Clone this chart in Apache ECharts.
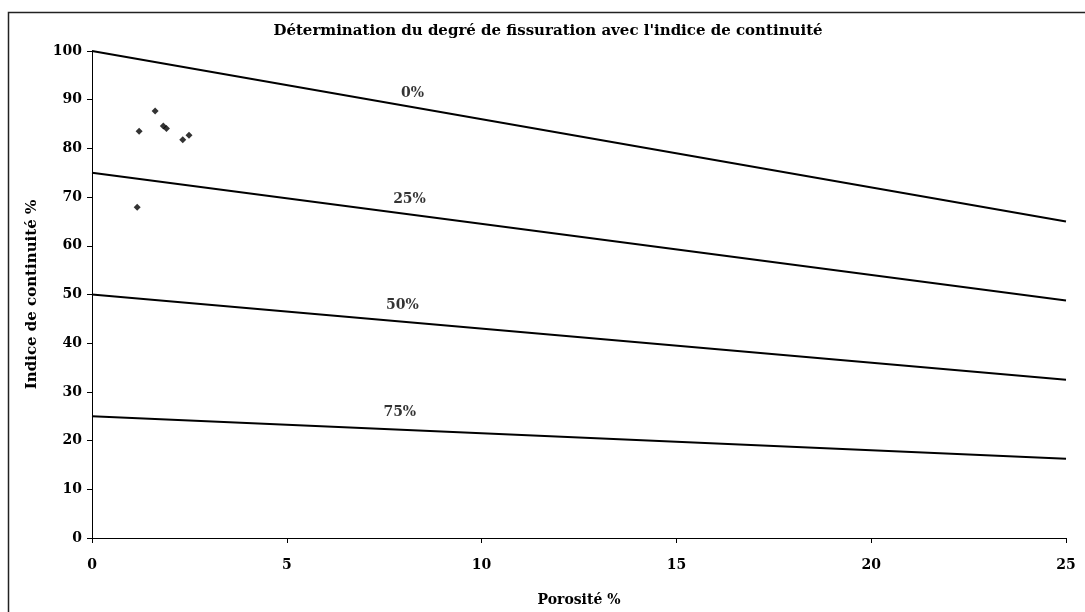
<!DOCTYPE html>
<html>
<head>
<meta charset="utf-8">
<script src="https://cdn.jsdelivr.net/npm/echarts@6/dist/echarts.min.js"></script>
<style>
html,body{margin:0;padding:0;background:#fff;}
#chart{width:1085px;height:612px;}
</style>
</head>
<body>
<div id="chart"></div>
<script>
// Reference lines (degree of fissuration): endpoints
const lineNames = ['0%', '25%', '50%', '75%'];
const lineX = [0, 25];
const line0 = [100, 65];
const line25 = [75, 48.75];
const line50 = [50, 32.5];
const line75 = [25, 16.25];

// Measured points (porosity %, continuity index %)
const pointsX = [1.21, 1.62, 1.83, 1.91, 2.33, 2.49, 1.16];
const pointsY = [83.5, 87.7, 84.6, 84.1, 81.8, 82.7, 67.9];

// Line label anchor positions (data units)
const labelX = [8.23, 8.15, 7.97, 7.9];
const labelY = [91.4, 69.6, 47.8, 25.7];

const xTicks = [0, 5, 10, 15, 20, 25];
const yTicks = [0, 10, 20, 30, 40, 50, 60, 70, 80, 90, 100];

const FONT = '"DejaVu Serif", "Liberation Serif", serif';
const lineVals = [line0, line25, line50, line75];

const series = lineVals.map((vals, i) => ({
  name: lineNames[i],
  type: 'line',
  data: lineX.map((x, j) => [x, vals[j]]),
  symbol: 'none',
  lineStyle: { color: '#000', width: 2 },
  silent: true,
  z: 2
}));

series.push({
  name: 'points',
  type: 'scatter',
  data: pointsX.map((x, i) => [x, pointsY[i]]),
  symbol: 'diamond',
  symbolSize: 7,
  itemStyle: { color: '#000' },
  z: 3
});

series.push({
  name: 'labels',
  type: 'scatter',
  data: labelX.map((x, i) => ({ value: [x, labelY[i]], name: lineNames[i] })),
  symbolSize: 0,
  itemStyle: { color: '#000' },
  label: {
    show: true,
    position: 'inside',
    formatter: p => p.name,
    color: '#000',
    textBorderWidth: 0,
    fontFamily: FONT,
    fontWeight: 'bold',
    fontSize: 14
  },
  silent: true,
  z: 4
});

const chart = echarts.init(document.getElementById('chart'), null, { renderer: 'canvas' });
chart.setOption({
  animation: false,
  backgroundColor: '#fff',
  title: {
    text: "Détermination du degré de fissuration avec l'indice de continuité",
    left: 543,
    textAlign: 'center',
    top: 19,
    textStyle: { fontFamily: FONT, fontWeight: 'bold', fontSize: 15, color: '#000' }
  },
  graphic: [{
    type: 'rect',
    shape: { x: 8.5, y: 12.5, width: 1100, height: 700 },
    style: { fill: 'none', stroke: '#222', lineWidth: 1.5 },
    silent: true
  }],
  grid: { left: 92, right: 19, top: 51, bottom: 74 },
  xAxis: {
    type: 'value',
    min: xTicks[0],
    max: xTicks[xTicks.length - 1],
    interval: 5,
    name: 'Porosité %',
    nameLocation: 'middle',
    nameGap: 55,
    nameTextStyle: { fontFamily: FONT, fontWeight: 'bold', fontSize: 14, color: '#000' },
    axisLine: { lineStyle: { color: '#000', width: 1 } },
    axisTick: { show: true, inside: false, length: 5, lineStyle: { color: '#000' } },
    axisLabel: { fontFamily: FONT, fontWeight: 'bold', fontSize: 14, color: '#000', margin: 20 },
    splitLine: { show: false }
  },
  yAxis: {
    type: 'value',
    min: yTicks[0],
    max: yTicks[yTicks.length - 1],
    interval: 10,
    name: 'Indice de continuité %',
    nameLocation: 'middle',
    nameGap: 52,
    nameTextStyle: { fontFamily: FONT, fontWeight: 'bold', fontSize: 15, color: '#000' },
    axisLine: { show: true, lineStyle: { color: '#000', width: 1 } },
    axisTick: { show: true, inside: false, length: 5, lineStyle: { color: '#000' } },
    axisLabel: { fontFamily: FONT, fontWeight: 'bold', fontSize: 14, color: '#000', margin: 10 },
    splitLine: { show: false }
  },
  series: series
});
</script>
</body>
</html>
